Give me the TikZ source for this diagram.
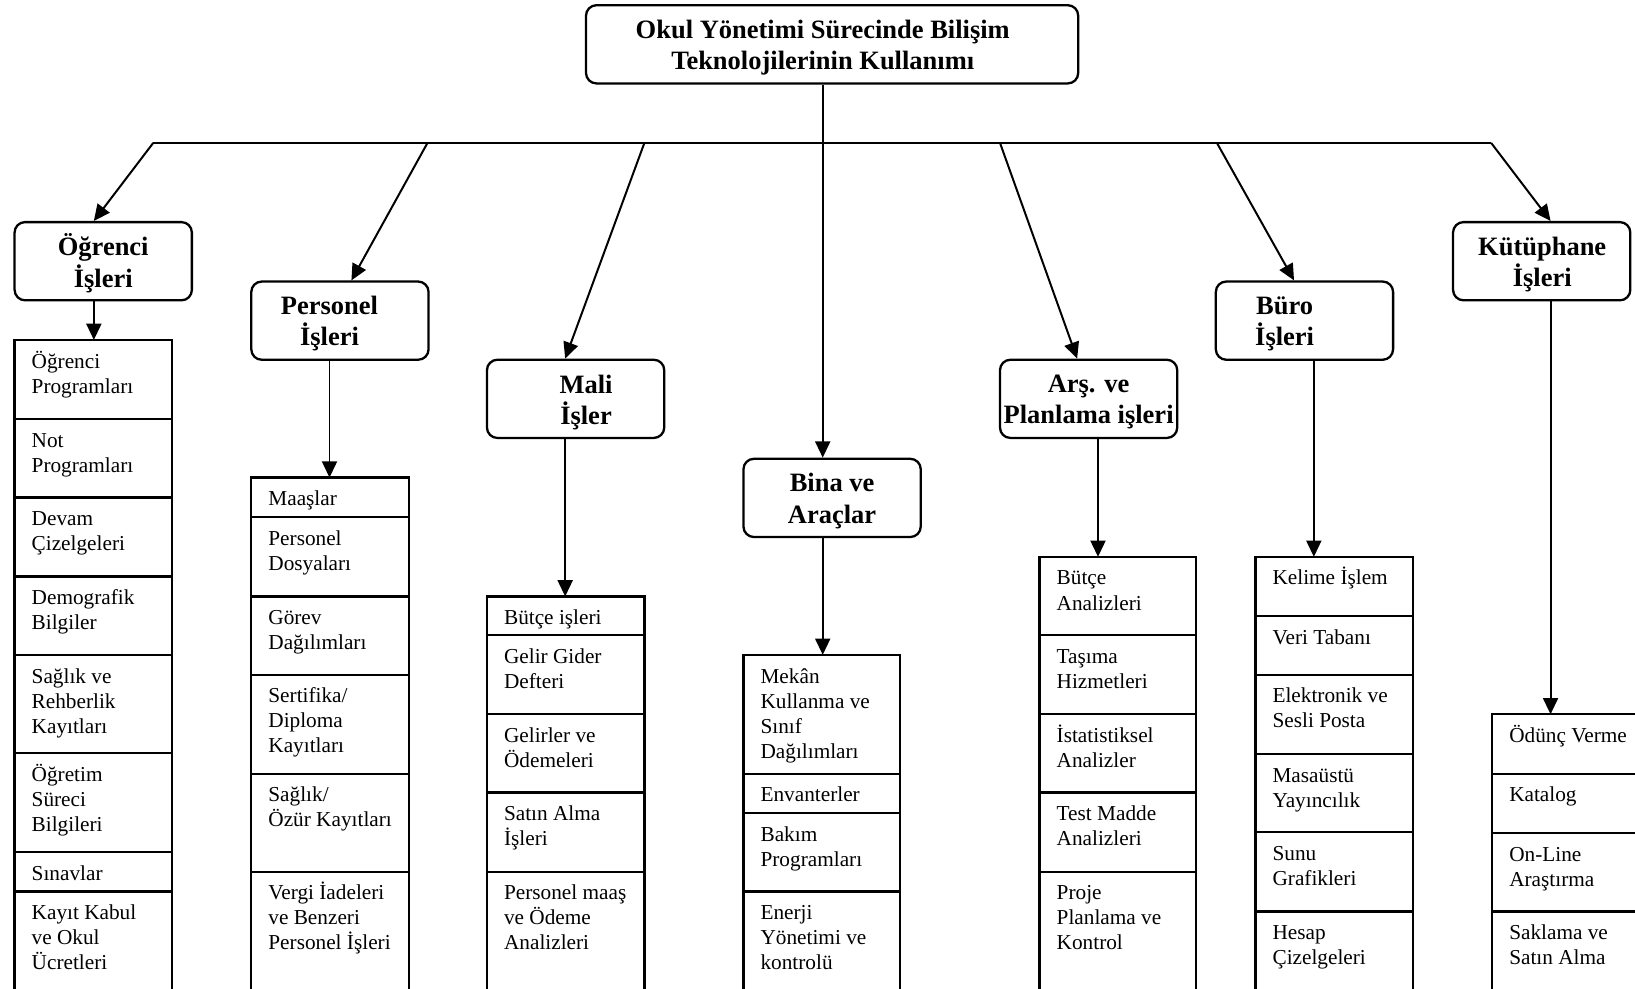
\documentclass[tikz,border=0pt]{standalone}
\usepackage{fontspec}
\setmainfont{Liberation Serif}
\usetikzlibrary{arrows.meta}

\tikzset{
  conn/.style={line width=0.95pt},
  arr/.style={conn, -{Triangle[length=7.8pt,width=7.2pt]}},
  hdrbox/.style={draw, line width=1.1pt, rounded corners=5pt, minimum width=85pt, minimum height=37.5pt, inner sep=0pt},
  hdrtx/.style={align=center, inner sep=0pt, font={\fontsize{12.7}{15}\selectfont\bfseries}},
  cellfr/.style={draw, line width=1.1pt, inner sep=0pt, outer sep=0pt},
  celltx/.style={anchor=base west, inner sep=0pt, font={\fontsize{10.2}{12}\selectfont}},
}

% one cell of a list: name, left x, top y, bottom y, width, text
\newcommand\listcell[6]{%
  \node[cellfr, anchor=north west, minimum width={(#5)*0.5pt}, minimum height={(#4-#3)*0.5pt}] (#1) at (#2,#3) {};
  \node[celltx] (#1t) at ([shift={(16,27)}]#1.north west) {\begin{tabular}[t]{@{}l@{}}#6\end{tabular}};
}

\begin{document}
\begin{tikzpicture}[x=0.5pt, y=-0.5pt]
\useasboundingbox (0,0) rectangle (1568,948);

% title box
\node[draw, line width=1.1pt, rounded corners=5pt, minimum width=236pt, minimum height=37.5pt, inner sep=0pt] (top) at (798,42.5) {};
\node[hdrtx] (topt) at (789,46) {Okul Yönetimi Sürecinde Bilişim\\Teknolojilerinin Kullanımı};

% group boxes
\node[hdrbox] (ogrH) at (99,250.5) {};
\node[hdrtx] (ogrHt) at (99,252.5) {Öğrenci\\İşleri};
\node[hdrbox] (perH) at (326,307.5) {};
\node[hdrtx] (perHt) at (316,310.5) {Personel\\İşleri};
\node[hdrbox] (malH) at (552,382.5) {};
\node[hdrtx] (malHt) at (562,386) {Mali\\İşler};
\node[hdrbox] (binH) at (798,477.5) {};
\node[hdrtx] (binHt) at (798,480.5) {Bina ve\\Araçlar};
\node[hdrbox] (arsH) at (1044,382.5) {};
\node[hdrtx] (arsHt) at (1044,385.5) {Arş. ve\\Planlama işleri};
\node[hdrbox] (burH) at (1251,307.5) {};
\node[hdrtx] (burHt) at (1232,310.5) {Büro\\İşleri};
\node[hdrbox] (kutH) at (1478.5,250.5) {};
\node[hdrtx] (kutHt) at (1479,254) {Kütüphane\\İşleri};

% lists
\listcell{ogr1}{14}{326}{402}{151}{Öğrenci\\Programları}
\listcell{ogr2}{14}{402}{477}{151}{Not\\Programları}
\listcell{ogr3}{14}{477}{553}{151}{Devam\\Çizelgeleri}
\listcell{ogr4}{14}{553}{628}{151}{Demografik\\Bilgiler}
\listcell{ogr5}{14}{628}{722}{151}{Sağlık ve\\Rehberlik\\Kayıtları}
\listcell{ogr6}{14}{722}{817}{151}{Öğretim\\Süreci\\Bilgileri}
\listcell{ogr7}{14}{817}{855}{151}{Sınavlar}
\listcell{ogr8}{14}{855}{990}{151}{Kayıt Kabul\\ve Okul\\Ücretleri}

\listcell{per1}{241}{458}{496}{151}{Maaşlar}
\listcell{per2}{241}{496}{572}{151}{Personel\\Dosyaları}
\listcell{per3}{241}{572}{647}{151}{Görev\\Dağılımları}
\listcell{per4}{241}{647}{742}{151}{Sertifika/\\Diploma\\Kayıtları}
\listcell{per5}{241}{742}{836}{151}{Sağlık/\\Özür Kayıtları}
\listcell{per6}{241}{836}{990}{151}{Vergi İadeleri\\ve Benzeri\\Personel İşleri}

\listcell{mal1}{467}{572}{609}{151}{Bütçe işleri}
\listcell{mal2}{467}{609}{685}{151}{Gelir Gider\\Defteri}
\listcell{mal3}{467}{685}{760}{151}{Gelirler ve\\Ödemeleri}
\listcell{mal4}{467}{760}{836}{151}{Satın Alma\\İşleri}
\listcell{mal5}{467}{836}{990}{151}{Personel maaş\\ve Ödeme\\Analizleri}

\listcell{bin1}{713}{628}{742}{150}{Mekân\\Kullanma ve\\Sınıf\\Dağılımları}
\listcell{bin2}{713}{742}{780}{150}{Envanterler}
\listcell{bin3}{713}{780}{855}{150}{Bakım\\Programları}
\listcell{bin4}{713}{855}{990}{150}{Enerji\\Yönetimi ve\\kontrolü}

\listcell{ars1}{997}{534}{609}{150}{Bütçe\\Analizleri}
\listcell{ars2}{997}{609}{685}{150}{Taşıma\\Hizmetleri}
\listcell{ars3}{997}{685}{760}{150}{İstatistiksel\\Analizler}
\listcell{ars4}{997}{760}{836}{150}{Test Madde\\Analizleri}
\listcell{ars5}{997}{836}{990}{150}{Proje\\Planlama ve\\Kontrol}

\listcell{bur1}{1204}{534}{591}{151}{Kelime İşlem}
\listcell{bur2}{1204}{591}{647}{151}{Veri Tabanı}
\listcell{bur3}{1204}{647}{723}{151}{Elektronik ve\\Sesli Posta}
\listcell{bur4}{1204}{723}{798}{151}{Masaüstü\\Yayıncılık}
\listcell{bur5}{1204}{798}{874}{151}{Sunu\\Grafikleri}
\listcell{bur6}{1204}{874}{990}{151}{Hesap\\Çizelgeleri}

\listcell{kut1}{1431}{685}{742}{151}{Ödünç Verme}
\listcell{kut2}{1431}{742}{799}{151}{Katalog}
\listcell{kut3}{1431}{799}{874}{151}{On-Line\\Araştırma}
\listcell{kut4}{1431}{874}{990}{151}{Saklama ve\\Satın Alma}

% bus line and its branch points
\coordinate (hub) at (789,137);
\coordinate (b1) at (147,137);
\coordinate (b2) at (410,137);
\coordinate (b3) at (618,137);
\coordinate (b5) at (959,137);
\coordinate (b6) at (1167,137);
\coordinate (b7) at (1430,137);
% where the branch arrows meet the group boxes
\coordinate (t1) at (90,0);
\coordinate (t2) at (337,0);
\coordinate (t3) at (542,0);
\coordinate (t5) at (1033,0);
\coordinate (t6) at (1241,0);
\coordinate (t7) at (1487,0);
% where the list arrows run
\coordinate (a1) at (90,0);
\coordinate (a2) at (316,0);
\coordinate (a3) at (542,0);
\coordinate (a4) at (789,0);
\coordinate (a5) at (1053,0);
\coordinate (a6) at (1260,0);
\coordinate (a7) at (1487,0);

\draw[conn] (top.south -| hub) -- (hub);
\draw[conn] (b1) -- (b7);
\draw[arr] (b1) -- (ogrH.north -| t1);
\draw[arr] (b2) -- (perH.north -| t2);
\draw[arr] (b3) -- (malH.north -| t3);
\draw[arr] (hub) -- (binH.north -| hub);
\draw[arr] (b5) -- (arsH.north -| t5);
\draw[arr] (b6) -- (burH.north -| t6);
\draw[arr] (b7) -- (kutH.north -| t7);

\draw[arr] (ogrH.south -| a1) -- (ogr1.north -| a1);
\draw[arr] (perH.south -| a2) -- (per1.north -| a2);
\draw[arr] (malH.south -| a3) -- (mal1.north -| a3);
\draw[arr] (binH.south -| a4) -- (bin1.north -| a4);
\draw[arr] (arsH.south -| a5) -- (ars1.north -| a5);
\draw[arr] (burH.south -| a6) -- (bur1.north -| a6);
\draw[arr] (kutH.south -| a7) -- (kut1.north -| a7);
\end{tikzpicture}
\end{document}
